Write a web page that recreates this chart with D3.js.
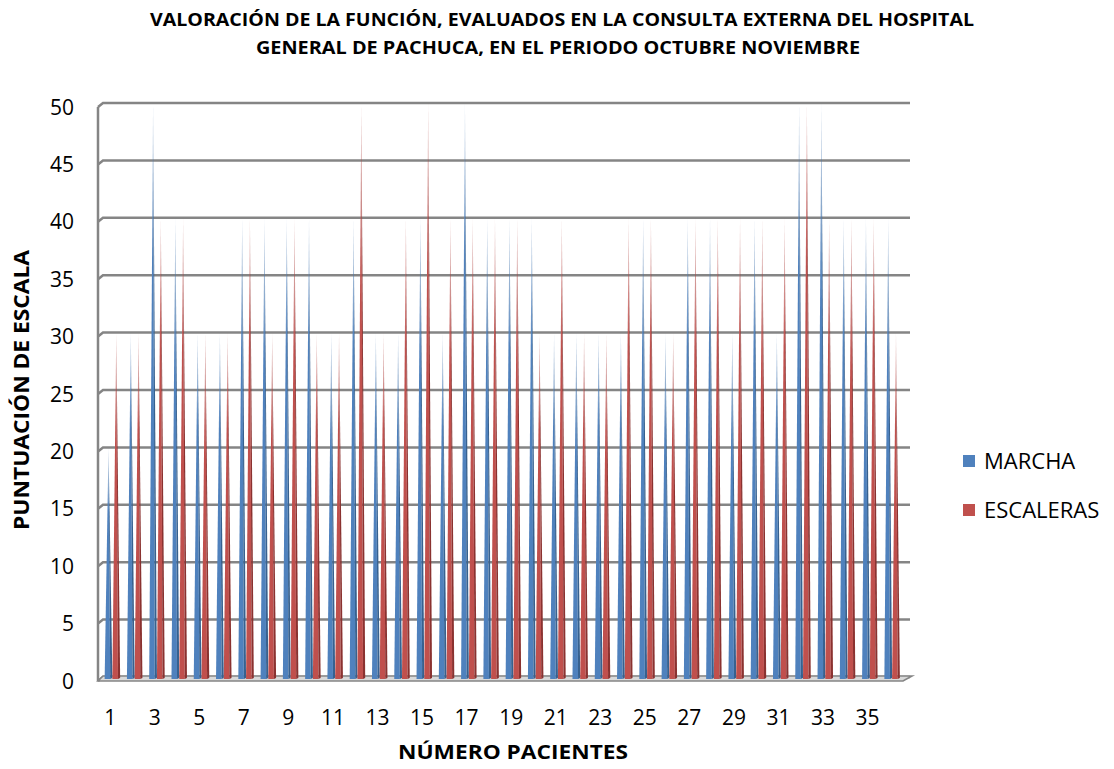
<!DOCTYPE html>
<html>
<head>
<meta charset="utf-8">
<script src="https://cdn.jsdelivr.net/npm/d3@7"></script>
<style>
  html, body { margin: 0; padding: 0; background: #fff; }
  svg { display: block; font-family: "Open Sans", "Noto Sans", sans-serif; }
</style>
</head>
<body>
<svg id="chart" width="1114" height="769"></svg>
<script>
// Patients 1..36 and their scores on each scale
const pacientes = d3.range(1, 37);
const marcha =    [20,30,50,40,30,30,40,40,40,40,30,40,30,30,40,30,50,40,40,40,30,30,30,30,40,30,40,40,30,40,30,50,50,40,40,40];
const escaleras = [30,30,40,40,30,30,40,30,40,30,30,50,30,40,50,40,40,40,40,30,40,30,30,40,40,30,40,40,40,40,40,50,40,40,40,30];
const series = ["MARCHA", "ESCALERAS"];
const yTicks = d3.range(0, 51, 5);
const xTickLabels = pacientes.filter(d => d % 2 === 1);

const palette = {
  MARCHA:    { front: "#4F81BD", side: "#37618F" },
  ESCALERAS: { front: "#C0504D", side: "#8A3230" }
};

const svg = d3.select("#chart");
const defs = svg.append("defs");

// plot area
const plotLeft = 98, plotRight = 910, plotTop = 103, plotBottom = 677;
const depth = 4;

const x = d3.scaleBand().domain(pacientes).range([99, 901]).padding(0);
const y = d3.scaleLinear().domain([0, 50]).range([plotBottom, plotTop]);
const bw = x.bandwidth();
const xs = d3.scaleBand().domain(series).range([bw / 2 - 5.5, bw / 2 + 10]);

// vertical fade towards the apex of each pyramid
series.forEach(s => {
  ["front", "side"].forEach(face => {
    const g = defs.append("linearGradient")
      .attr("id", `fade-${s}-${face}`)
      .attr("x1", 0).attr("y1", 1).attr("x2", 0).attr("y2", 0);
    g.append("stop").attr("offset", "0%").attr("stop-color", palette[s][face]).attr("stop-opacity", 1);
    g.append("stop").attr("offset", "72%").attr("stop-color", palette[s][face]).attr("stop-opacity", 1);
    g.append("stop").attr("offset", "100%").attr("stop-color", palette[s][face]).attr("stop-opacity", 0.3);
  });
});

// back wall gridlines with a small bevel onto the side wall
const grid = svg.append("g");
grid.selectAll("path.grid")
  .data(yTicks)
  .join("path")
  .attr("class", "grid")
  .attr("d", d => `M${plotLeft},${y(d) + depth} L${plotLeft + depth + 1},${y(d)} L${plotRight},${y(d)}`)
  .attr("fill", "none")
  .attr("stroke", "#858585")
  .attr("stroke-width", 2.5);

// side wall edge
grid.append("path")
  .attr("d", `M${plotLeft},${y(50) + depth} L${plotLeft},${y(0) + depth}`)
  .attr("stroke", "#858585")
  .attr("stroke-width", 2.5);

// floor
grid.append("path")
  .attr("d", `M${plotLeft},${plotBottom + depth} L${plotRight - 7},${plotBottom + depth} L${plotRight + 2},${plotBottom - 1} L${plotLeft + depth + 1},${plotBottom - 1} Z`)
  .attr("fill", "#d9d9d9")
  .attr("stroke", "#858585")
  .attr("stroke-width", 1.6);

// pyramids
const rows = pacientes.map((p, i) => ({ p, MARCHA: marcha[i], ESCALERAS: escaleras[i] }));
const bars = svg.append("g");
rows.forEach(r => {
  series.forEach(s => {
    const x0 = x(r.p) + xs(s);
    const w = xs.bandwidth();
    const xm = x0 + w * 0.72;   // front / side edge
    const x1 = x0 + w;
    const apexX = x0 + w * 0.5;
    const base = plotBottom + 2;
    const apexY = y(r[s]);
    const g = bars.append("g");
    g.append("path")
      .attr("d", `M${x0},${base} L${xm},${base} L${apexX},${apexY} Z`)
      .attr("fill", `url(#fade-${s}-front)`);
    g.append("path")
      .attr("d", `M${xm},${base} L${x1},${base - 1} L${apexX},${apexY} Z`)
      .attr("fill", `url(#fade-${s}-side)`);
  });
});

// y-axis labels
svg.append("g").selectAll("text")
  .data(yTicks)
  .join("text")
  .attr("x", 74)
  .attr("y", d => y(d) + depth + 7.5)
  .attr("text-anchor", "end")
  .attr("font-size", 21)
  .attr("fill", "#000")
  .text(d => d);

// x-axis labels
svg.append("g").selectAll("text")
  .data(xTickLabels)
  .join("text")
  .attr("x", d => x(d) + bw / 2)
  .attr("y", 725)
  .attr("text-anchor", "middle")
  .attr("font-size", 21)
  .attr("fill", "#000")
  .text(d => d);

// titles
const title = svg.append("g").attr("font-weight", "bold").attr("font-size", 18);
title.append("text")
  .attr("x", 562).attr("y", 26)
  .attr("text-anchor", "middle")
  .attr("textLength", 824).attr("lengthAdjust", "spacingAndGlyphs")
  .text("VALORACIÓN DE LA FUNCIÓN, EVALUADOS EN LA CONSULTA EXTERNA DEL HOSPITAL");
title.append("text")
  .attr("x", 558).attr("y", 54)
  .attr("text-anchor", "middle")
  .attr("textLength", 604).attr("lengthAdjust", "spacingAndGlyphs")
  .text("GENERAL DE PACHUCA, EN EL PERIODO OCTUBRE NOVIEMBRE");

svg.append("text")
  .attr("x", 513).attr("y", 759)
  .attr("text-anchor", "middle")
  .attr("font-weight", "bold").attr("font-size", 19)
  .attr("textLength", 230).attr("lengthAdjust", "spacingAndGlyphs")
  .text("NÚMERO PACIENTES");

svg.append("text")
  .attr("transform", "translate(29,390) rotate(-90)")
  .attr("text-anchor", "middle")
  .attr("font-weight", "bold").attr("font-size", 21)
  .attr("textLength", 280).attr("lengthAdjust", "spacingAndGlyphs")
  .text("PUNTUACIÓN DE ESCALA");

// legend
const legend = svg.append("g");
series.forEach((s, i) => {
  const ly = 455 + i * 49;
  legend.append("rect")
    .attr("x", 963).attr("y", ly)
    .attr("width", 12).attr("height", 12)
    .attr("fill", palette[s].front);
  legend.append("text")
    .attr("x", 984).attr("y", ly + 13.5)
    .attr("font-size", 22)
    .attr("fill", "#000")
    .text(s);
});
</script>
</body>
</html>
